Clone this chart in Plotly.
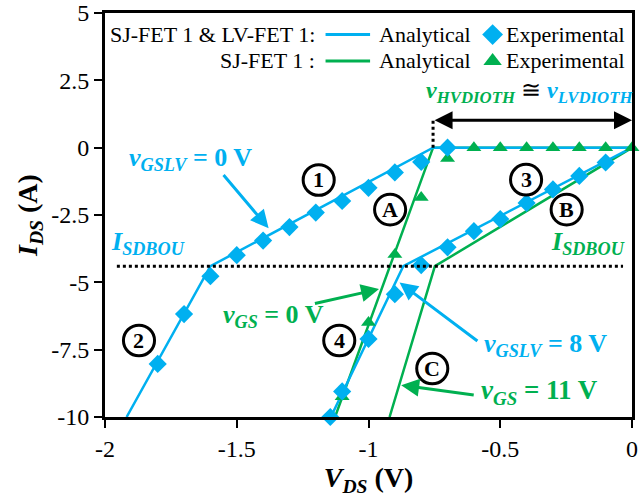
import plotly.graph_objects as go

BLUE = "#00B0F0"
GREEN = "#00B050"
FONT = "Liberation Serif"

# Analytical curves (V_DS in V, I_DS in A)
blue0_v = [-1.918, -1.6, -0.755, 0.0]
blue0_i = [-10.0, -4.4, 0.0, 0.0]
blue8_v = [-1.143, -0.868, 0.0]
blue8_i = [-10.0, -4.4, 0.0]
green0_v = [-1.127, -0.755, 0.0]
green0_i = [-10.0, 0.0, 0.0]
green11_v = [-0.92, -0.748, 0.0]
green11_i = [-10.0, -4.4, 0.0]

# Experimental points
exp_blue_v = [-1.8, -1.7, -1.6, -1.5, -1.4, -1.3, -1.2, -1.1, -1.0, -0.9, -0.8, -0.7,
              -1.145, -1.1, -1.0, -0.9, -0.8, -0.7, -0.6, -0.5, -0.4, -0.3, -0.2, -0.1]
exp_blue_i = [-8.03, -6.18, -4.77, -3.99, -3.45, -2.95, -2.41, -1.98, -1.49, -0.92, -0.53, 0.0,
              -10.0, -9.05, -7.1, -5.44, -4.36, -3.7, -3.1, -2.65, -2.05, -1.55, -1.05, -0.55]
exp_green_v = [-1.1, -1.0, -0.9, -0.8, -0.7, -0.6, -0.5, -0.4, -0.3, -0.2, -0.1, 0.0]
exp_green_i = [-9.25, -6.49, -3.97, -1.85, -0.4, 0.0, 0.0, 0.0, 0.0, 0.0, 0.0, 0.0]

i_sdbou = -4.4
v_dioth = -0.755

x_ticks = [-2, -1.5, -1, -0.5, 0]
y_ticks = [5, 2.5, 0, -2.5, -5, -7.5, -10]

fig = go.Figure()
fig.add_trace(go.Scatter(x=green0_v, y=green0_i, mode="lines", line=dict(color=GREEN, width=2.5),
                         name="SJ-FET 1 Analytical vGS=0", showlegend=False))
fig.add_trace(go.Scatter(x=green11_v, y=green11_i, mode="lines", line=dict(color=GREEN, width=2.5),
                         name="SJ-FET 1 Analytical vGS=11", showlegend=False))
fig.add_trace(go.Scatter(x=blue0_v, y=blue0_i, mode="lines", line=dict(color=BLUE, width=2.5),
                         name="Analytical vGSLV=0", showlegend=False))
fig.add_trace(go.Scatter(x=blue8_v, y=blue8_i, mode="lines", line=dict(color=BLUE, width=2.5),
                         name="Analytical vGSLV=8", showlegend=False))
fig.add_trace(go.Scatter(x=exp_green_v, y=exp_green_i, mode="markers", cliponaxis=False,
                         marker=dict(symbol="triangle-up", size=13, color=GREEN),
                         name="SJ-FET 1 Experimental", showlegend=False))
fig.add_trace(go.Scatter(x=exp_blue_v, y=exp_blue_i, mode="markers", cliponaxis=False,
                         marker=dict(symbol="diamond", size=14, color=BLUE),
                         name="Experimental", showlegend=False))

# dotted reference lines
fig.add_shape(type="line", x0=-1.955, x1=-0.034, y0=i_sdbou, y1=i_sdbou,
              line=dict(color="black", width=3, dash="dot"))
fig.add_shape(type="line", x0=v_dioth, x1=v_dioth, y0=0, y1=1.02,
              line=dict(color="black", width=3, dash="dot"))

ann = []
def txt(x, y, text, color="black", size=24, bold=True, xanchor="center"):
    t = "<b>" + text + "</b>" if bold else text
    ann.append(dict(x=x, y=y, xref="x", yref="y", text=t, showarrow=False,
                    xanchor=xanchor, yanchor="middle",
                    font=dict(family=FONT, size=size, color=color)))

def arrow(x0, y0, x1, y1, color, both=False):
    ann.append(dict(x=x1, y=y1, ax=x0, ay=y0, xref="x", yref="y", axref="x", ayref="y",
                    text="", showarrow=True, arrowhead=2, arrowsize=1.2, arrowwidth=3,
                    arrowcolor=color, arrowside="end+start" if both else "end",
                    startarrowhead=2, startarrowsize=1.2))

# double arrow v_dioth
arrow(v_dioth, 1.02, 0.0, 1.02, "black", both=True)
ann.append(dict(x=-0.39, y=2.05, xref="x", yref="y", showarrow=False,
                text=("<b><span style='color:%s'><i>v</i><sub><i>HVDIOTH</i></sub></span></b>"
                      " ≅ <b><span style='color:%s'><i>v</i><sub><i>LVDIOTH</i></sub></span></b>") % (GREEN, BLUE),
                font=dict(family=FONT, size=24, color="black")))

txt(-1.677, -0.42, "<i>v</i><sub><i>GSLV</i></sub> = 0 V", BLUE, size=26)
arrow(-1.555, -0.96, -1.379, -2.99, BLUE)
txt(-1.837, -3.55, "<i>I</i><sub><i>SDBOU</i></sub>", BLUE, size=26)
txt(-0.167, -3.55, "<i>I</i><sub><i>SDBOU</i></sub>", GREEN, size=26)
txt(-1.362, -6.24, "<i>v</i><sub><i>GS</i></sub> = 0 V", GREEN, size=26)
arrow(-1.209, -5.8, -0.96, -5.25, GREEN)
txt(-0.33, -7.34, "<i>v</i><sub><i>GSLV</i></sub> = 8 V", BLUE, size=26)
arrow(-0.581, -7.22, -0.882, -5.01, BLUE)
txt(-0.35, -9.08, "<i>v</i><sub><i>GS</i></sub> = 11 V", GREEN, size=27)
arrow(-0.595, -9.19, -0.876, -8.82, GREEN)

# circled labels
circles = [("1", -1.189, -1.2), ("3", -0.402, -1.19), ("A", -0.918, -2.3), ("B", -0.248, -2.3),
           ("2", -1.871, -7.16), ("4", -1.111, -7.16), ("C", -0.758, -8.2)]
for lab, cx, cy in circles:
    fig.add_shape(type="circle", x0=cx - 0.059, x1=cx + 0.059, y0=cy - 0.57, y1=cy + 0.57,
                  line=dict(color="black", width=3), fillcolor="white")
    txt(cx, cy, lab, "black", size=22)

# manual legend
row1, row2 = 4.2, 3.22
txt(-1.196, row1, "SJ-FET 1 &amp; LV-FET 1:", "black", size=22, bold=False, xanchor="right")
txt(-1.196, row2, "SJ-FET 1 :", "black", size=22, bold=False, xanchor="right")
fig.add_shape(type="line", x0=-1.163, x1=-0.994, y0=row1, y1=row1, line=dict(color=BLUE, width=3))
fig.add_shape(type="line", x0=-1.163, x1=-0.994, y0=row2, y1=row2, line=dict(color=GREEN, width=3))
txt(-0.968, row1, "Analytical", "black", size=22, bold=False, xanchor="left")
txt(-0.968, row2, "Analytical", "black", size=22, bold=False, xanchor="left")
fig.add_trace(go.Scatter(x=[-0.529], y=[row1], mode="markers", showlegend=False, hoverinfo="skip",
                         marker=dict(symbol="diamond", size=16, color=BLUE)))
fig.add_trace(go.Scatter(x=[-0.529], y=[row2], mode="markers", showlegend=False, hoverinfo="skip",
                         marker=dict(symbol="triangle-up", size=16, color=GREEN)))
txt(-0.485, row1, "Experimental", "black", size=22, bold=False, xanchor="left")
txt(-0.485, row2, "Experimental", "black", size=22, bold=False, xanchor="left")

fig.update_layout(
    annotations=ann,
    width=640, height=499,
    margin=dict(l=105, r=8, t=13, b=82),
    paper_bgcolor="white", plot_bgcolor="white",
    font=dict(family=FONT, size=24, color="black"),
    showlegend=False,
)
fig.update_xaxes(range=[-2, 0], tickvals=x_ticks, ticktext=[str(t) for t in x_ticks],
                 showgrid=False, zeroline=False, showline=True, linecolor="black", linewidth=3,
                 mirror=True, ticks="outside", ticklen=8, tickwidth=1.5, tickcolor="black",
                 tickfont=dict(family=FONT, size=24), ticklabeloverflow="allow", automargin=False,
                 title=dict(text="<b><i>V</i><sub><i>DS</i></sub> (V)</b>", font=dict(family=FONT, size=28),
                            standoff=4))
fig.update_yaxes(range=[-10, 5], tickvals=y_ticks, ticktext=[str(t) for t in y_ticks],
                 showgrid=False, zeroline=False, showline=True, linecolor="black", linewidth=3,
                 mirror=True, ticks="outside", ticklen=8, tickwidth=1.5, tickcolor="black",
                 tickfont=dict(family=FONT, size=24), ticklabeloverflow="allow", automargin=False,
                 title=dict(text="<b><i>I</i><sub><i>DS</i></sub> (A)</b>", font=dict(family=FONT, size=28),
                            standoff=6))

fig.write_html("out.html")
